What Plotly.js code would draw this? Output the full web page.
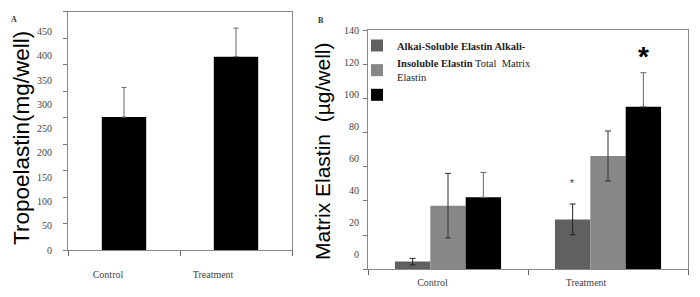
<!DOCTYPE html>
<html>
<head>
<meta charset="utf-8">
<script src="https://cdn.plot.ly/plotly-3.0.1.min.js"></script>
<style>html,body{margin:0;padding:0;background:#fff;}#chart{width:700px;height:297px;}</style>
</head>
<body>
<div id="chart"></div>
<script>
// ---- data ----
const categories = ['Control', 'Treatment'];
// Panel A: tropoelastin (mg/well)
const tropoelastin = [251, 365];
const tropoelastinErr = [56, 54];
// Panel B: matrix elastin (µg/well)
const alkaliSoluble = [4.5, 29.2];
const alkaliSolubleErr = [1.9, 9.0];
const alkaliInsoluble = [37.2, 66.3];
const alkaliInsolubleErr = [18.9, 14.6];
const totalMatrix = [42.1, 95.1];
const totalMatrixErr = [14.6, 19.9];
// tick labels
const yTicksA = [0, 50, 100, 150, 200, 250, 300, 350, 400, 450];
const yTicksB = [0, 20, 40, 60, 80, 100, 120, 140];
const seriesNames = [
  '<b>Alkai-Soluble Elastin Alkali-</b>',
  '<b>Insoluble Elastin</b> Total\u00a0 Matrix<br>Elastin',
  ' '
];
const titleA = 'Tropoelastin(mg/well)';
const titleB = 'Matrix Elastin\u00a0 (µg/well)';

const serif = "'Liberation Serif', 'Times New Roman', serif";
const sans = "'Liberation Sans', Arial, sans-serif";
const W = 700, H = 297;
const px = (a, b) => [a / W, b / W];
const py = (top, bottom) => [1 - bottom / H, 1 - top / H];
const zeros = categories.map(() => 0);
const catIdx = categories.map((c, i) => i);
const boundaries = [-0.5].concat(catIdx.map(i => i + 0.5));

// the printed labels in the source figure sit slightly off their tick marks
const labelPosA = yTicksA.map(v => v * 0.916);
const labelPosB = yTicksB.map(v => 8.95 + v * 0.9331);
const catLabelPosA = catIdx.map(i => -0.143 + i * 0.938);
const catLabelPosB = catIdx.map(i => -0.097 + i * 0.9595);

const traces = [
  {
    type: 'bar', x: catIdx, y: tropoelastin, xaxis: 'x', yaxis: 'y',
    width: 0.396, hovertext: categories,
    marker: {color: '#000'}, showlegend: false,
    error_y: {type: 'data', array: tropoelastinErr, arrayminus: zeros, symmetric: false,
              color: '#666', thickness: 1, width: 2.5}
  },
  {
    type: 'bar', name: seriesNames[0], x: catIdx, y: alkaliSoluble, xaxis: 'x2', yaxis: 'y2',
    hovertext: categories, marker: {color: '#606060'},
    error_y: {type: 'data', array: alkaliSolubleErr, color: '#222', thickness: 1, width: 3}
  },
  {
    type: 'bar', name: seriesNames[1], x: catIdx, y: alkaliInsoluble, xaxis: 'x2', yaxis: 'y2',
    hovertext: categories, marker: {color: '#878787'},
    error_y: {type: 'data', array: alkaliInsolubleErr, color: '#333', thickness: 1, width: 3}
  },
  {
    type: 'bar', name: seriesNames[2], x: catIdx, y: totalMatrix, xaxis: 'x2', yaxis: 'y2',
    hovertext: categories, marker: {color: '#000'},
    error_y: {type: 'data', array: totalMatrixErr, arrayminus: zeros, symmetric: false,
              color: '#666', thickness: 1, width: 3}
  }
];

const frame = {showline: true, linecolor: '#888', linewidth: 1, mirror: true, showgrid: false, zeroline: false};
const tickFont = {family: serif, size: 10, color: '#444'};
const xMinor = {tickmode: 'array', tickvals: boundaries, ticks: 'outside', ticklen: 5, tickcolor: '#666', showgrid: false};

const layout = {
  width: W, height: H,
  margin: {l: 0, r: 0, t: 0, b: 0},
  paper_bgcolor: '#fff', plot_bgcolor: '#fff',
  barmode: 'group',
  bargap: 0.337,
  bargroupgap: 0,
  showlegend: true,
  legend: {
    x: 357 / W, y: 1 - 31 / H, xanchor: 'left', yanchor: 'top',
    font: {family: serif, size: 10.5, color: '#222'},
    bgcolor: 'rgba(0,0,0,0)', borderwidth: 0, tracegroupgap: 0
  },
  // Panel A
  xaxis: Object.assign({}, frame, {domain: px(68, 292), anchor: 'y', range: [-0.5, 1.5],
    tickmode: 'array', tickvals: catLabelPosA, ticktext: categories, ticks: '',
    tickfont: tickFont, ticklabelstandoff: 15, minor: xMinor}),
  yaxis: Object.assign({}, frame, {domain: py(11.7, 250), anchor: 'x', range: [0, 450],
    tickmode: 'array', tickvals: labelPosA, ticktext: yTicksA.map(String), ticks: '',
    tickfont: tickFont, ticklabelstandoff: 13,
    minor: {tickmode: 'array', tickvals: yTicksA, ticks: 'outside', ticklen: 4, tickcolor: '#777', showgrid: false}}),
  // Panel B
  xaxis2: Object.assign({}, frame, {domain: px(368, 688), anchor: 'y2', range: [-0.5, 1.5],
    tickmode: 'array', tickvals: catLabelPosB, ticktext: categories, ticks: '',
    tickfont: tickFont, ticklabelstandoff: 4, minor: xMinor}),
  yaxis2: Object.assign({}, frame, {domain: py(30, 269.3), anchor: 'x2', range: [0, 140],
    tickmode: 'array', tickvals: labelPosB, ticktext: yTicksB.map(String), ticks: '',
    tickfont: tickFont, ticklabelstandoff: 6,
    minor: {tickmode: 'array', tickvals: yTicksB, ticks: 'outside', ticklen: 4, tickcolor: '#777', showgrid: false}}),
  annotations: [
    {text: titleA, textangle: -90, xref: 'paper', yref: 'paper', x: 21 / W, y: 1 - 138 / H,
     xanchor: 'center', yanchor: 'middle', showarrow: false, font: {family: sans, size: 22.5, color: '#000'}},
    {text: titleB, textangle: -90, xref: 'paper', yref: 'paper', x: 322 / W, y: 1 - 152 / H,
     xanchor: 'center', yanchor: 'middle', showarrow: false, font: {family: sans, size: 21, color: '#000'}},
    {text: '<b>A</b>', xref: 'paper', yref: 'paper', x: 14 / W, y: 1 - 19 / H, showarrow: false,
     xanchor: 'center', yanchor: 'middle', font: {family: serif, size: 8, color: '#333'}},
    {text: '<b>B</b>', xref: 'paper', yref: 'paper', x: 320.7 / W, y: 1 - 20 / H, showarrow: false,
     xanchor: 'center', yanchor: 'middle', font: {family: serif, size: 8, color: '#333'}},
    {text: '*', xref: 'x2', yref: 'y2', x: 0.775, y: alkaliSoluble[1] + alkaliSolubleErr[1] + 12, showarrow: false,
     font: {family: sans, size: 10, color: '#333'}},
    {text: '<b>*</b>', xref: 'x2', yref: 'y2', x: 1.221, y: totalMatrix[1] + totalMatrixErr[1] + 9.5, showarrow: false,
     font: {family: sans, size: 28, color: '#000'}}
  ]
};

Plotly.newPlot('chart', traces, layout, {displayModeBar: false, staticPlot: true});
</script>
</body>
</html>
